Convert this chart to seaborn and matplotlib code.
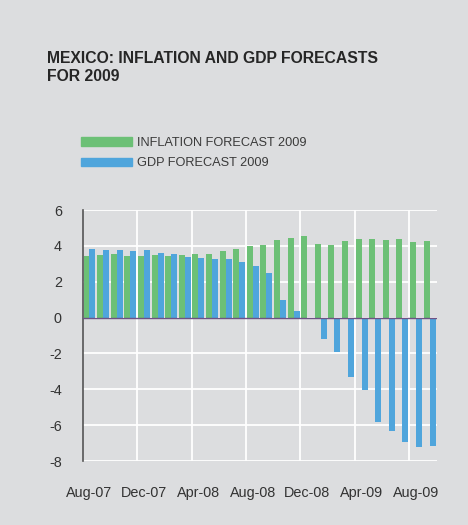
import pandas as pd
import matplotlib.pyplot as plt
import seaborn as sns

# monthly forecasts, Aug-07 .. Sep-09
months = pd.date_range("2007-08-01", "2009-09-01", freq="MS").strftime("%b-%y").tolist()
inflation = [3.46, 3.50, 3.54, 3.45, 3.46, 3.48, 3.45, 3.50, 3.54, 3.56, 3.71, 3.82, 3.99,
             4.06, 4.32, 4.43, 4.55, 4.10, 4.02, 4.25, 4.36, 4.40, 4.34, 4.36, 4.23, 4.28]
gdp = [3.82, 3.78, 3.78, 3.74, 3.76, 3.60, 3.56, 3.37, 3.30, 3.26, 3.26, 3.09, 2.87,
       2.50, 0.97, 0.36, -0.10, -1.17, -1.93, -3.33, -4.04, -5.84, -6.33, -6.94, -7.22, -7.18]
series_names = ["INFLATION FORECAST 2009", "GDP FORECAST 2009"]
colors = ["#6cc076", "#4fa5dc"]

df = pd.DataFrame({"month": months * 2,
                   "value": inflation + gdp,
                   "series": [series_names[0]] * len(months) + [series_names[1]] * len(months)})

bg = "#dcdddf"
sns.set_theme(style="white")
plt.rcParams["font.family"] = ["Liberation Sans", "DejaVu Sans"]
plt.rcParams["axes.unicode_minus"] = False

fig = plt.figure(figsize=(4.68, 5.25), dpi=100, facecolor=bg)
ax = fig.add_axes([0.1767, 0.1219, 0.7560, 0.4781])
ax.set_facecolor(bg)

sns.barplot(data=df, x="month", y="value", hue="series", palette=colors,
            width=0.88, gap=0, saturation=1, linewidth=0, ax=ax, legend=False)

ax.set_xlim(-0.5, len(months) - 0.5)
ax.set_ylim(-8, 6)
ax.set_yticks(range(-8, 7, 2))
ax.set_xticks(range(0, len(months), 4))
ax.set_xticklabels(months[::4])
ax.set_xticks([i - 0.5 for i in range(4, len(months), 4)], minor=True)
ax.set_xlabel("")
ax.set_ylabel("")

ax.grid(False)
ax.yaxis.grid(True, color="white", linewidth=1.3)
ax.xaxis.grid(True, which="minor", color="white", linewidth=1.3)
ax.set_axisbelow(True)
ax.axhline(0, color="#6e5384", linewidth=1.0, zorder=5)

for s in ["top", "right", "bottom"]:
    ax.spines[s].set_visible(False)
ax.spines["left"].set_color("#555555")
ax.spines["left"].set_linewidth(1.2)
ax.tick_params(axis="both", which="both", length=0, labelsize=10.4, labelcolor="#333333")
ax.tick_params(axis="y", pad=15)
ax.tick_params(axis="x", pad=18)

fig.text(47 / 468, 1 - 51 / 525, "MEXICO: INFLATION AND GDP FORECASTS\nFOR 2009",
         ha="left", va="top", fontsize=11.3, fontweight="bold", color="#262626",
         linespacing=1.25)

handles = [plt.Rectangle((0, 0), 1, 1, color=c) for c in colors]
fig.legend(handles, series_names, loc="upper left", bbox_to_anchor=(81 / 468, 1 - 137 / 525),
           frameon=False, fontsize=9.2, handlelength=4.0, handleheight=0.6,
           handletextpad=0.4, labelspacing=0.65, borderpad=0, borderaxespad=0,
           labelcolor="#3a3a3a")

fig.savefig("out.png", dpi=100, facecolor=bg)
